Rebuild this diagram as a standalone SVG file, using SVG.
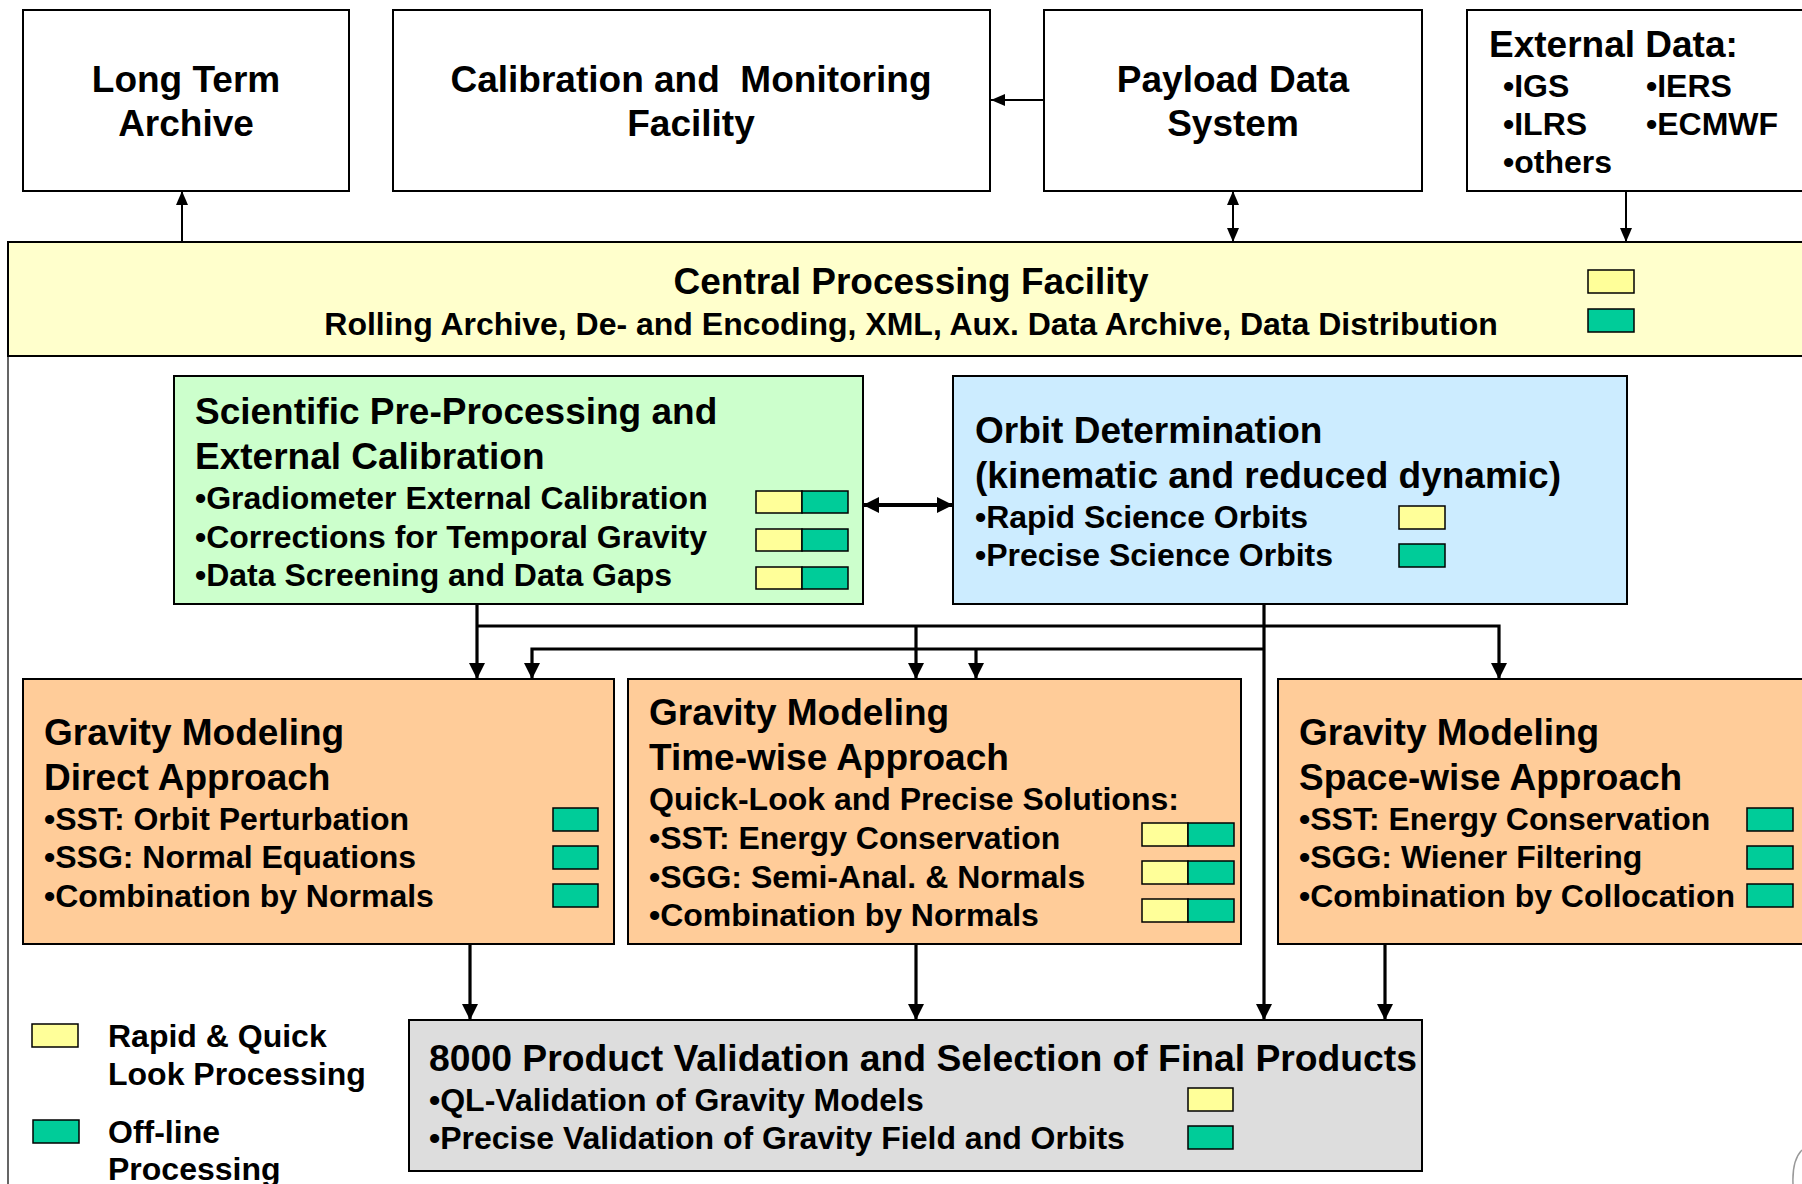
<svg xmlns="http://www.w3.org/2000/svg" width="1802" height="1184" viewBox="0 0 1802 1184">
<defs>
<style>
.t{font-family:"Liberation Sans",Arial,Helvetica,sans-serif;font-weight:bold;fill:#000}
.h{font-size:37px}
.b{font-size:32px}
.m{text-anchor:middle}
.box{stroke:#000;stroke-width:2}
.wh{fill:#fff}
.sq{stroke:#000;stroke-width:1.5}
.y{fill:#FFFF99}
.g{fill:#00CC99}
.c{fill:none;stroke:#000;stroke-width:3.2}
.cs{fill:none;stroke:#000;stroke-width:2}
</style>
<marker id="ah" viewBox="0 0 16 16" markerWidth="16" markerHeight="16" refX="16" refY="8" orient="auto-start-reverse" markerUnits="userSpaceOnUse">
<path d="M0,0 L16,8 L0,16 z" fill="#000"/>
</marker>
<marker id="as" viewBox="0 0 14 12" markerWidth="14" markerHeight="12" refX="14" refY="6" orient="auto-start-reverse" markerUnits="userSpaceOnUse">
<path d="M0,0 L14,6 L0,12 z" fill="#000"/>
</marker>
</defs>
<rect width="1802" height="1184" fill="#fff"/>

<g id="cpf">
<rect x="8" y="242" width="1830" height="1000" fill="#fff" stroke="#333" stroke-width="1.5"/>
<rect class="box" x="8" y="242" width="1830" height="114" fill="#FFFFCC"/>
<text class="t h m" x="911" y="294">Central Processing Facility</text>
<text class="t b m" x="911" y="335">Rolling Archive, De- and Encoding, XML, Aux. Data Archive, Data Distribution</text>
<rect class="sq y" x="1588" y="270" width="46" height="23"/>
<rect class="sq g" x="1588" y="309" width="46" height="23"/>
</g>

<g id="lta">
<rect class="box wh" x="23" y="10" width="326" height="181"/>
<text class="t h m" x="186" y="92">Long Term</text>
<text class="t h m" x="186" y="136">Archive</text>
</g>

<g id="cmf">
<rect class="box wh" x="393" y="10" width="597" height="181"/>
<text class="t h m" x="691" y="92" xml:space="preserve">Calibration and  Monitoring</text>
<text class="t h m" x="691" y="136">Facility</text>
</g>

<g id="pds">
<rect class="box wh" x="1044" y="10" width="378" height="181"/>
<text class="t h m" x="1233" y="92">Payload Data</text>
<text class="t h m" x="1233" y="136">System</text>
</g>

<g id="ext">
<rect class="box wh" x="1467" y="10" width="360" height="181"/>
<text class="t h" x="1489" y="57">External Data:</text>
<text class="t b" x="1503" y="97">•IGS</text>
<text class="t b" x="1646" y="97">•IERS</text>
<text class="t b" x="1503" y="135">•ILRS</text>
<text class="t b" x="1646" y="135">•ECMWF</text>
<text class="t b" x="1503" y="173">•others</text>
</g>

<g id="spp">
<rect class="box" x="174" y="376" width="689" height="228" fill="#CCFFCC"/>
<text class="t h" x="195" y="424">Scientific Pre-Processing and</text>
<text class="t h" x="195" y="469">External Calibration</text>
<text class="t b" x="195" y="509">•Gradiometer External Calibration</text>
<text class="t b" x="195" y="548">•Corrections for Temporal Gravity</text>
<text class="t b" x="195" y="586">•Data Screening and Data Gaps</text>
<rect class="sq y" x="756" y="491" width="46" height="22"/>
<rect class="sq g" x="802" y="491" width="46" height="22"/>
<rect class="sq y" x="756" y="529" width="46" height="22"/>
<rect class="sq g" x="802" y="529" width="46" height="22"/>
<rect class="sq y" x="756" y="567" width="46" height="22"/>
<rect class="sq g" x="802" y="567" width="46" height="22"/>
</g>

<g id="orbit">
<rect class="box" x="953" y="376" width="674" height="228" fill="#CCECFF"/>
<text class="t h" x="975" y="443">Orbit Determination</text>
<text class="t h" x="975" y="488">(kinematic and reduced dynamic)</text>
<text class="t b" x="975" y="528">•Rapid Science Orbits</text>
<text class="t b" x="975" y="566">•Precise Science Orbits</text>
<rect class="sq y" x="1399" y="506" width="46" height="23"/>
<rect class="sq g" x="1399" y="544" width="46" height="23"/>
</g>

<g id="gm-direct">
<rect class="box" x="23" y="679" width="591" height="265" fill="#FFCC99"/>
<text class="t h" x="44" y="745">Gravity Modeling</text>
<text class="t h" x="44" y="790">Direct Approach</text>
<text class="t b" x="44" y="830">•SST: Orbit Perturbation</text>
<text class="t b" x="44" y="868">•SSG: Normal Equations</text>
<text class="t b" x="44" y="907">•Combination by Normals</text>
<rect class="sq g" x="553" y="808" width="45" height="23"/>
<rect class="sq g" x="553" y="846" width="45" height="23"/>
<rect class="sq g" x="553" y="884" width="45" height="23"/>
</g>

<g id="gm-time">
<rect class="box" x="628" y="679" width="613" height="265" fill="#FFCC99"/>
<text class="t h" x="649" y="725">Gravity Modeling</text>
<text class="t h" x="649" y="770">Time-wise Approach</text>
<text class="t b" x="649" y="810">Quick-Look and Precise Solutions:</text>
<text class="t b" x="649" y="849">•SST: Energy Conservation</text>
<text class="t b" x="649" y="888">•SGG: Semi-Anal. &amp; Normals</text>
<text class="t b" x="649" y="926">•Combination by Normals</text>
<rect class="sq y" x="1142" y="823" width="46" height="23"/>
<rect class="sq g" x="1188" y="823" width="46" height="23"/>
<rect class="sq y" x="1142" y="861" width="46" height="23"/>
<rect class="sq g" x="1188" y="861" width="46" height="23"/>
<rect class="sq y" x="1142" y="899" width="46" height="23"/>
<rect class="sq g" x="1188" y="899" width="46" height="23"/>
</g>

<g id="gm-space">
<rect class="box" x="1278" y="679" width="560" height="265" fill="#FFCC99"/>
<text class="t h" x="1299" y="745">Gravity Modeling</text>
<text class="t h" x="1299" y="790">Space-wise Approach</text>
<text class="t b" x="1299" y="830">•SST: Energy Conservation</text>
<text class="t b" x="1299" y="868">•SGG: Wiener Filtering</text>
<text class="t b" x="1299" y="907">•Combination by Collocation</text>
<rect class="sq g" x="1747" y="808" width="46" height="23"/>
<rect class="sq g" x="1747" y="846" width="46" height="23"/>
<rect class="sq g" x="1747" y="884" width="46" height="23"/>
</g>

<g id="validation">
<rect class="box" x="409" y="1020" width="1013" height="151" fill="#DDDDDD"/>
<text class="t h" x="429" y="1071" textLength="988" lengthAdjust="spacingAndGlyphs">8000 Product Validation and Selection of Final Products</text>
<text class="t b" x="429" y="1111">•QL-Validation of Gravity Models</text>
<text class="t b" x="429" y="1149">•Precise Validation of Gravity Field and Orbits</text>
<rect class="sq y" x="1188" y="1088" width="45" height="23"/>
<rect class="sq g" x="1188" y="1126" width="45" height="23"/>
</g>

<g id="legend">
<rect class="sq y" x="32" y="1024" width="46" height="23"/>
<text class="t b" x="108" y="1047">Rapid &amp; Quick</text>
<text class="t b" x="108" y="1085">Look Processing</text>
<rect class="sq g" x="33" y="1120" width="46" height="23"/>
<text class="t b" x="108" y="1143">Off-line</text>
<text class="t b" x="108" y="1180">Processing</text>
</g>

<g id="connectors">
<path class="cs" d="M182,242 L182,191" marker-end="url(#as)"/>
<path class="cs" d="M1044,100 L991,100" marker-end="url(#as)"/>
<path class="cs" d="M1233,191 L1233,242" marker-start="url(#as)" marker-end="url(#as)"/>
<path class="cs" d="M1626,191 L1626,242" marker-end="url(#as)"/>
<path class="c" style="stroke-width:4" d="M863,505 L953,505" marker-start="url(#ah)" marker-end="url(#ah)"/>
<path class="c" d="M477,604 L477,679" marker-end="url(#ah)"/>
<path class="c" d="M477,626 L1499,626 L1499,679" marker-end="url(#ah)"/>
<path class="c" d="M916,626 L916,679" marker-end="url(#ah)"/>
<path class="c" d="M1264,604 L1264,1020" marker-end="url(#ah)"/>
<path class="c" d="M1264,649 L532,649 L532,679" marker-end="url(#ah)"/>
<path class="c" d="M976,649 L976,679" marker-end="url(#ah)"/>
<path class="c" d="M470,944 L470,1020" marker-end="url(#ah)"/>
<path class="c" d="M916,944 L916,1020" marker-end="url(#ah)"/>
<path class="c" d="M1385,944 L1385,1020" marker-end="url(#ah)"/>
</g>

<path d="M1802,1150 Q1792,1160 1793,1184" fill="none" stroke="#999" stroke-width="1.5"/>
</svg>
